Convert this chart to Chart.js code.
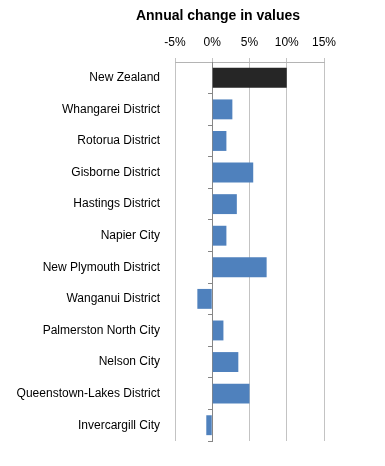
<!DOCTYPE html>
<html>
<head>
<meta charset="utf-8">
<script src="https://cdn.jsdelivr.net/npm/chart.js@4/dist/chart.umd.min.js"></script>
<style>
  html, body { margin: 0; padding: 0; background: #ffffff; }
  #wrap { width: 385px; height: 466px; position: relative; }
</style>
</head>
<body>
<div id="wrap"><canvas id="c"></canvas></div>
<script>
const categories = [
  "New Zealand", "Whangarei District", "Rotorua District", "Gisborne District",
  "Hastings District", "Napier City", "New Plymouth District", "Wanganui District",
  "Palmerston North City", "Nelson City", "Queenstown-Lakes District", "Invercargill City"
];
const changeValues = [10.0, 2.7, 1.9, 5.5, 3.3, 1.9, 7.3, -2.0, 1.5, 3.5, 5.0, -0.8];
const xTickValues = [-5, 0, 5, 10, 15];
const chartTitle = "Annual change in values";
const highlightCategory = "New Zealand";

const FONT = "'Liberation Sans', Arial, sans-serif";

// Title drawn centred where the reference places it (offset from the canvas centre)
const offsetTitle = {
  id: 'offsetTitle',
  afterDraw(chart, args, opts) {
    const ctx = chart.ctx;
    ctx.save();
    ctx.font = 'bold 14px ' + FONT;
    ctx.fillStyle = '#000000';
    ctx.textAlign = 'center';
    ctx.textBaseline = 'middle';
    ctx.fillText(opts.text, opts.x, opts.y);
    ctx.restore();
  }
};

new Chart(document.getElementById('c'), {
  type: 'bar',
  data: {
    labels: categories,
    datasets: [{
      data: changeValues,
      backgroundColor: ctx => categories[ctx.dataIndex] === highlightCategory ? '#262626' : '#4f81bd',
      borderWidth: 0,
      barPercentage: 0.63,
      categoryPercentage: 1.0,
      yAxisID: 'y'
    }]
  },
  plugins: [offsetTitle],
  options: {
    indexAxis: 'y',
    responsive: true,
    maintainAspectRatio: false,
    animation: false,
    layout: { padding: { left: 0, right: 61, top: 23.6, bottom: 25 } },
    plugins: {
      legend: { display: false },
      tooltip: { enabled: false },
      title: { display: false },
      offsetTitle: { text: chartTitle, x: 218, y: 16.5 }
    },
    scales: {
      x: {
        position: 'top',
        min: xTickValues[0],
        max: xTickValues[xTickValues.length - 1],
        afterBuildTicks: s => { s.ticks = xTickValues.map(v => ({ value: v })); },
        afterFit: s => { s.height = 38.4; },
        ticks: {
          color: '#000000',
          font: { family: FONT, size: 12 },
          padding: 8,
          callback: v => v + '%'
        },
        grid: { color: '#c3c3c3', tickLength: 4, lineWidth: 1 },
        border: { color: '#b4b4b4' }
      },
      y: {
        position: 'left',
        offset: true,
        afterFit: s => { s.width = 175; },
        ticks: {
          color: '#000000',
          font: { family: FONT, size: 12 },
          padding: 15,
          autoSkip: false
        },
        grid: { display: false, drawTicks: false },
        border: { display: false }
      },
      y2: {
        axis: 'y',
        type: 'category',
        position: { x: 0 },
        offset: true,
        z: 1,
        afterFit: s => { s.width = 0; },
        ticks: { display: false },
        grid: { offset: true, drawOnChartArea: false, tickLength: 4, color: '#868686' },
        border: { color: '#868686', width: 1 }
      }
    }
  }
});
</script>
</body>
</html>
